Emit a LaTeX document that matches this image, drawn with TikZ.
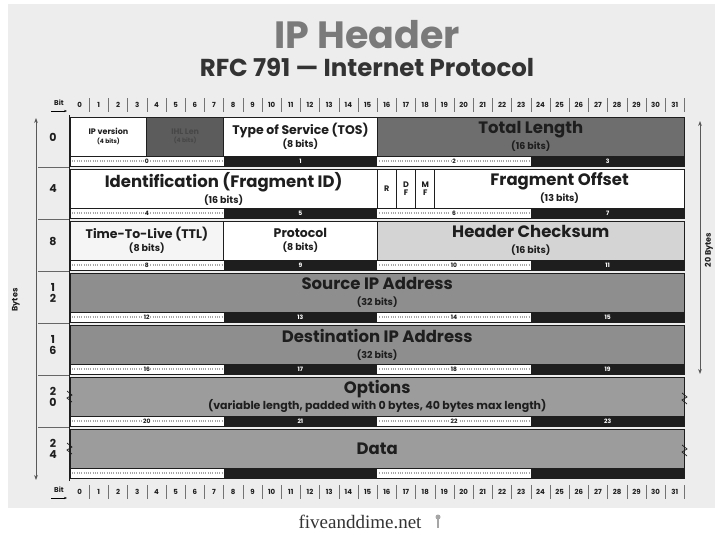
\documentclass[tikz,border=0pt]{standalone}
\usepackage{fontspec}
\setmainfont{Liberation Serif}
\newfontfamily\hdrfont{Poppins}
\usetikzlibrary{arrows.meta}

\definecolor{panel}{HTML}{EDEDED}
\definecolor{ink}{HTML}{1E1E1E}
\definecolor{ihlgray}{HTML}{5C5C5C}
\definecolor{lengray}{HTML}{6E6E6E}
\definecolor{chkgray}{HTML}{D4D4D4}
\definecolor{addrgray}{HTML}{8E8E8E}
\definecolor{optgray}{HTML}{9C9C9C}

\begin{document}
\begin{tikzpicture}[x=1pt, y=-1pt,
  every node/.style={font=\hdrfont\bfseries, text=ink},
  field/.style={rectangle, draw=ink, line width=0.8pt, fill=white,
                inner sep=0pt, outer sep=0pt, anchor=north west,
                minimum height=39pt, align=center},
  ihl/.style={field, fill=ihlgray},
  len/.style={field, fill=lengray},
  chk/.style={field, fill=chkgray},
  addr/.style={field, fill=addrgray},
  opt/.style={field, fill=optgray},
  big/.style={font=\hdrfont\bfseries\fontsize{16.5}{16}\selectfont},
  mid/.style={font=\hdrfont\bfseries\fontsize{12.5}{13}\selectfont},
  tiny/.style={font=\hdrfont\bfseries\fontsize{8}{8.5}\selectfont},
  rulenum/.style={font=\hdrfont\bfseries\fontsize{7}{8}\selectfont, inner sep=0pt},
  barnum/.style={font=\hdrfont\bfseries\fontsize{6}{6}\selectfont, inner sep=0.6pt},
  rowlabel/.style={font=\hdrfont\bfseries\fontsize{11}{11}\selectfont, align=center},
  vbar/.style={{Stealth[length=5pt]}-{Stealth[length=5pt]}, line width=0.8pt, draw=black!65},
  breakmark/.style={line width=0.7pt, draw=ink},
]
\newcommand\nbits{\fontsize{9.5}{10}\selectfont}
\useasboundingbox (0,0) rectangle (715,535);
\fill[white] (0,0) rectangle (715,535);
\fill[panel] (8,4) rectangle (715,508);

% Title
\node[font=\hdrfont\bfseries\fontsize{38}{38}\selectfont, text=black!52] (title) at (367,35) {IP Header};
\node[font=\hdrfont\bfseries\fontsize{24.5}{24}\selectfont, text=black!80] (subtitle) at (367,67) {RFC 791 — Internet Protocol};

% Bit rulers (top and bottom)
\node[rulenum] (bittop) at (59,103) {Bit};
\node[rulenum] (bitbot) at (59,490) {Bit};
\coordinate (bittopa) at (51,111);
\coordinate (bittopb) at (67,111);
\coordinate (bitbota) at (51,498);
\coordinate (bitbotb) at (67,498);
\draw[-{Stealth[length=3pt]}, line width=0.6pt] (bittopa) -- (bittopb);
\draw[-{Stealth[length=3pt]}, line width=0.6pt] (bitbota) -- (bitbotb);
\foreach \b in {0,...,31} {
  \node[rulenum] (top\b) at ({79.6+19.2*\b},105) {\b};
  \node[rulenum] (bot\b) at ({79.6+19.2*\b},492) {\b};
}
\foreach \b in {1,...,32} {
  \draw[black!55, line width=0.5pt] ({70+19.2*\b},98) -- ({70+19.2*\b},112);
  \draw[black!55, line width=0.5pt] ({70+19.2*\b},485) -- ({70+19.2*\b},499);
}

% Row 0
\node[field, minimum width=76.8pt, tiny] (ipver) at (70,117) {IP version\\ \fontsize{6}{7}\selectfont (4 bits)};
\node[ihl, minimum width=76.8pt, tiny, text=black!72] (ihlen) at (146.8,117) {IHL Len\\ \fontsize{6}{7}\selectfont (4 bits)};
\node[field, minimum width=153.6pt, mid] (tos) at (223.6,117) {Type of Service (TOS)\\ \nbits (8 bits)};
\node[len, minimum width=307.2pt, big] (totlen) at (377.2,117) {Total Length\\ \nbits (16 bits)};

% Row 4
\node[field, minimum width=307.2pt, big] (ident) at (70,169) {Identification (Fragment ID)\\ \nbits (16 bits)};
\node[field, minimum width=19.2pt, tiny] (rflag) at (377.2,169) {R};
\node[field, minimum width=19.2pt, tiny] (dfflag) at (396.4,169) {D\\F};
\node[field, minimum width=19.2pt, tiny] (mfflag) at (415.6,169) {M\\F};
\node[field, minimum width=249.6pt, big] (fragoff) at (434.8,169) {Fragment Offset\\ \nbits (13 bits)};

% Row 8
\node[field, minimum width=153.6pt, mid, fill=black!4] (ttl) at (70,221) {Time-To-Live (TTL)\\ \nbits (8 bits)};
\node[field, minimum width=153.6pt, mid] (proto) at (223.6,221) {Protocol\\ \nbits (8 bits)};
\node[chk, minimum width=307.2pt, big] (chksum) at (377.2,221) {Header Checksum\\ \nbits (16 bits)};

% Row 12 to 24
\node[addr, minimum width=614.4pt, big] (srcip) at (70,273) {Source IP Address\\ \nbits (32 bits)};
\node[addr, minimum width=614.4pt, big] (dstip) at (70,325) {Destination IP Address\\ \nbits (32 bits)};
\node[opt, minimum width=614.4pt, big] (options) at (70,377) {Options\\ \fontsize{11}{11}\selectfont (variable length, padded with 0 bytes, 40 bytes max length)};
\node[opt, minimum width=614.4pt, big] (data) at (70,429) {Data};

% Byte bars under each row
\foreach \r in {0,...,6} {
  \pgfmathsetmacro\yb{117+52*\r+39}
  \fill[white] (70,\yb) rectangle (223.6,\yb+10);
  \fill[white] (377.2,\yb) rectangle (530.8,\yb+10);
  \fill[ink] (223.6,\yb) rectangle (377.2,\yb+10);
  \fill[ink] (530.8,\yb) rectangle (684.4,\yb+10);
  \draw[black!35, dash pattern=on 0.7pt off 1.6pt, line width=1.5pt] (72,\yb+5) -- (221.6,\yb+5);
  \draw[black!35, dash pattern=on 0.7pt off 1.6pt, line width=1.5pt] (379.2,\yb+5) -- (528.8,\yb+5);
  \draw[ink, line width=0.6pt] (70,\yb) rectangle (684.4,\yb+10);
}
\foreach \r in {0,...,5} {
  \pgfmathtruncatemacro\ba{4*\r}
  \pgfmathtruncatemacro\bb{4*\r+1}
  \pgfmathtruncatemacro\bc{4*\r+2}
  \pgfmathtruncatemacro\bd{4*\r+3}
  \pgfmathsetmacro\yc{117+52*\r+44}
  \node[barnum, fill=white] (byte\ba) at (146.8,\yc) {\ba};
  \node[barnum, text=white] (byte\bb) at (300.4,\yc) {\bb};
  \node[barnum, fill=white] (byte\bc) at (454,\yc) {\bc};
  \node[barnum, text=white] (byte\bd) at (607.6,\yc) {\bd};
}

% Break marks on variable rows
\foreach \yt in {377,429} {
  \draw[breakmark] (67,\yt+14) -- (72,\yt+18) -- (67,\yt+21) -- (72,\yt+25);
  \draw[breakmark] (682,\yt+16) -- (687,\yt+20) -- (682,\yt+23) -- (687,\yt+27);
}

% Byte offset column
\draw[ink, line width=0.9pt] (69,115) -- (69,481);
\foreach \yt in {169,221,273,325,377,429} {
  \draw[black!60, line width=0.6pt] (38,\yt-2) -- (69,\yt-2);
}
\node[rowlabel] (off0) at (53,137) {0};
\node[rowlabel] (off4) at (53,189) {4};
\node[rowlabel] (off8) at (53,241) {8};
\node[rowlabel] (off12) at (53,293) {1\\2};
\node[rowlabel] (off16) at (53,345) {1\\6};
\node[rowlabel] (off20) at (53,397) {2\\0};
\node[rowlabel] (off24) at (53,449) {2\\4};

% Size arrows
\coordinate (lefttop) at (36,118);
\coordinate (leftbot) at (36,480);
\coordinate (righttop) at (700,121);
\coordinate (rightbot) at (700,374);
\draw[vbar] (lefttop) -- (leftbot);
\draw[vbar] (righttop) -- (rightbot);
\node[rotate=90, font=\hdrfont\bfseries\fontsize{8}{8}\selectfont] (bytes) at (16,300) {Bytes};
\node[rotate=90, font=\hdrfont\bfseries\fontsize{8}{8}\selectfont, inner sep=1pt] (hdrbytes) at (709,250) {20 Bytes};

% Footer
\node[font=\rmfamily\fontsize{19}{20}\selectfont, text=black!80] (site) at (360,522) {fiveanddime.net};
\fill[black!35] (438,517) circle (2.5);
\draw[black!35, line width=1.2pt] (438,518) -- (438,528);
\end{tikzpicture}
\end{document}
